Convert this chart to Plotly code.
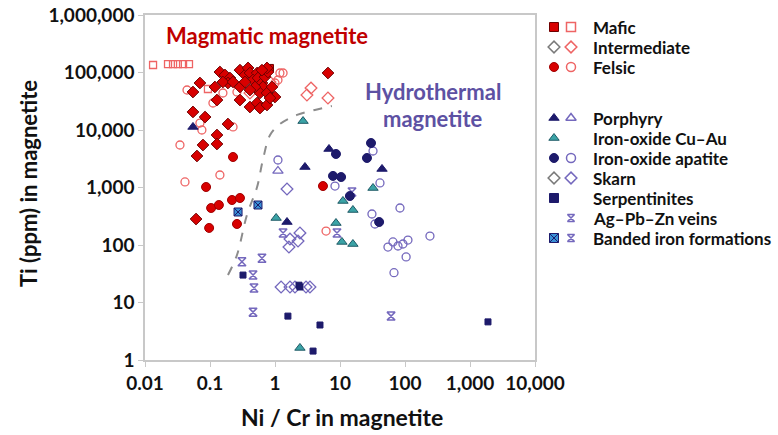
import plotly.graph_objects as go

# ---- Magmatic magnetite (Ni/Cr, Ti ppm) ----
mafic_open_x = [0.0133, 0.0226, 0.027, 0.032, 0.0385, 0.0475, 0.093]
mafic_open_y = [135000, 140000, 140000, 140000, 140000, 140000, 51600]
mafic_fill_x = [0.63, 0.837]
mafic_fill_y = [90500, 120000]

inter_fill_x = [0.142, 0.170, 0.203, 0.189, 0.158, 0.226, 0.289, 0.345, 0.385, 0.412,
                0.53, 0.459, 0.547, 0.63, 0.70, 0.78, 0.753, 0.653, 0.587, 0.492,
                0.412, 0.289, 0.289, 0.412, 0.53, 0.587, 0.753, 0.753, 0.90, 1.0,
                0.837, 0.119, 0.070, 0.0547, 0.128, 0.0547, 0.084, 0.189, 0.128, 0.078,
                0.128, 0.063, 0.061, 6.53, 0.345, 0.63]
inter_fill_y = [102000, 90500, 80200, 65700, 68400, 68400, 110000, 90500, 120000, 98000,
                98000, 74000, 80200, 65700, 83600, 102000, 120000, 56000, 44000, 56000,
                49600, 56000, 33200, 25100, 29500, 24100, 27200, 44000, 56000, 37500,
                36000, 56000, 65700, 45800, 33200, 20600, 16800, 12700, 8180, 5480,
                5710, 3530, 283, 98000, 68400, 110000]
inter_open_x = [3.58, 3.1, 6.53, 0.492, 0.412, 0.837]
inter_open_y = [53700, 40600, 36000, 83600, 44000, 68400]

felsic_fill_x = [0.226, 0.087, 0.104, 0.137, 0.218, 0.289, 0.097, 0.26, 5.47]
felsic_fill_y = [3390, 1020, 440, 496, 606, 657, 198, 232, 1060]
felsic_open_x = [0.0443, 0.111, 0.158, 1.19, 1.33, 1.11, 0.070, 0.075, 0.226, 0.0345,
                 0.142, 0.0412, 6.1, 0.26, 1.0]
felsic_open_y = [49600, 29500, 44000, 98000, 98000, 74000, 13200, 10000, 11300, 5480,
                 1650, 1250, 175, 45800, 65700]

# ---- Hydrothermal magnetite ----
porph_fill_x = [0.0547, 2.89, 1.53, 6.77, 44.3]
porph_fill_y = [11300, 2270, 251, 4670, 2100]
porph_open_x = [1.11]
porph_open_y = [1940]

iocg_x = [2.70, 1.04, 11.1, 15.8, 8.67, 10.7, 15.8, 32.2, 2.42]
iocg_y = [14300, 295, 583, 406, 241, 113, 104, 980, 1.62]

ioa_fill_x = [8.67, 30, 26, 7.8, 10.4, 40, 14.2]
ioa_fill_y = [3830, 5940, 3260, 1590, 1520, 251, 711]
ioa_open_x = [1.11, 32.2, 8.37, 41.2, 83.7, 31, 34.5, 54.7, 65.3, 78, 93, 111, 242, 104, 67.7]
ioa_open_y = [3010, 4310, 1060, 1200, 440, 346, 232, 92, 113, 96, 104, 122, 143, 62, 33]

skarn_x = [1.53, 1.70, 2.42, 2.26, 1.64, 1.24, 1.70, 2.03, 3.0, 3.45]
skarn_y = [942, 127, 162, 117, 92, 18.6, 18.6, 18.6, 18.6, 18.6]

serp_x = [0.322, 2.34, 2.42, 1.58, 4.92, 3.85, 1890]
serp_y = [30, 20, 18.6, 5.8, 4.06, 1.43, 4.6]

agpbzn_x = [1.33, 0.31, 0.63, 0.459, 0.475, 0.459, 61, 8.98, 15.3]
agpbzn_y = [162, 51, 59, 30, 17.9, 6.8, 5.8, 162, 835]

bif_x = [0.27, 0.547]
bif_y = [375, 496]

# boundary between magmatic and hydrothermal fields
bound_x = [0.189, 0.26, 0.37, 0.53, 0.65, 0.84, 1.19, 2.18, 4.1, 7.5]
bound_y = [30, 67, 333, 1020, 3000, 8200, 12700, 18300, 22300, 26100]

x_ticks = [0.01, 0.1, 1, 10, 100, 1000, 10000]
x_labels = ["0.01", "0.1", "1", "10", "100", "1,000", "10,000"]
y_ticks = [1, 10, 100, 1000, 10000, 100000, 1000000]
y_labels = ["1", "10", "100", "1,000", "10,000", "100,000", "1,000,000"]

legend_rows = ["Mafic", "Intermediate", "Felsic", "Porphyry", "Iron-oxide Cu\u2013Au",
               "Iron-oxide apatite", "Skarn", "Serpentinites", "Ag\u2013Pb\u2013Zn veins",
               "Banded iron formations"]

RED = "#d80000"
RED_EDGE = "#6e0000"
RED_OPEN = "#ee6464"
NAVY = "#1d1a6b"
PURPLE = "#7468bd"
TEAL = "#3ba3a6"
TEAL_EDGE = "#1f5a66"
BIF_BLUE = "#3a90d6"
GRAY = "#7a7a7a"
FONT = "Lato"

W, H = 778, 435
ML, MR, MT, MB = 145, 10, 15, 75
PW = W - ML - MR
PLOT_R = 535


def px(v):
    return (v - ML) / PW


def py(v):
    return (H - MB - v) / (H - MT - MB)


fig = go.Figure()


def add(x, y, symbol, size, color, line_color, line_w, xa="x", ya="y"):
    fig.add_trace(go.Scatter(
        x=x, y=y, mode="markers", xaxis=xa, yaxis=ya, showlegend=False,
        hoverinfo="skip",
        marker=dict(symbol=symbol, size=size, color=color,
                    line=dict(color=line_color, width=line_w))))


fig.add_trace(go.Scatter(x=bound_x, y=bound_y, mode="lines", showlegend=False,
                         line=dict(color="#8c8c8c", width=2, dash="dash", shape="spline"),
                         hoverinfo="skip"))

add(mafic_open_x, mafic_open_y, "square-open", 7, RED_OPEN, RED_OPEN, 1.3)
add(felsic_open_x, felsic_open_y, "circle-open", 8, RED_OPEN, RED_OPEN, 1.3)
add(inter_open_x, inter_open_y, "diamond-open", 9, RED_OPEN, RED_OPEN, 1.3)
add(mafic_fill_x, mafic_fill_y, "square", 7, RED, RED_EDGE, 1)
add(inter_fill_x, inter_fill_y, "diamond", 9, RED, RED_EDGE, 1)
add(felsic_fill_x, felsic_fill_y, "circle", 9, RED, "#a00000", 1)

add(ioa_open_x, ioa_open_y, "circle-open", 8, PURPLE, PURPLE, 1.3)
add(skarn_x, skarn_y, "diamond-open", 9, PURPLE, PURPLE, 1.3)
add(porph_open_x, porph_open_y, "triangle-up-open", 9, PURPLE, PURPLE, 1.3)
add(agpbzn_x, agpbzn_y, "hourglass-open", 8, PURPLE, PURPLE, 1.5)
add(ioa_fill_x, ioa_fill_y, "circle", 9, NAVY, NAVY, 1)
add(porph_fill_x, porph_fill_y, "triangle-up", 9, NAVY, NAVY, 1)
add(serp_x, serp_y, "square", 6, NAVY, NAVY, 1)
add(iocg_x, iocg_y, "triangle-up", 9, TEAL, TEAL_EDGE, 1)
add(bif_x, bif_y, "square-x", 8, BIF_BLUE, NAVY, 1)

# ---- custom two-column key (filled / open symbols per row) ----
row_y = [27, 47, 67, 118, 138, 158, 178, 198, 218, 238]
col_fill, col_open = 554, 571
key = [
    ("square", RED, RED_EDGE, 1, "square-open", RED_OPEN),
    ("diamond-open", GRAY, GRAY, 1.5, "diamond-open", RED_OPEN),
    ("circle", RED, "#a00000", 1, "circle-open", RED_OPEN),
    ("triangle-up", NAVY, NAVY, 1, "triangle-up-open", PURPLE),
    ("triangle-up", TEAL, TEAL_EDGE, 1, None, None),
    ("circle", NAVY, NAVY, 1, "circle-open", PURPLE),
    ("diamond-open", GRAY, GRAY, 1.5, "diamond-open", PURPLE),
    ("square", NAVY, NAVY, 1, None, None),
    (None, None, None, None, "hourglass-open", PURPLE),
    ("square-x", BIF_BLUE, NAVY, 1, "hourglass-open", PURPLE),
]
for yy, (fs, fc, fl, fw, osym, oc) in zip(row_y, key):
    if fs:
        add([col_fill], [yy], fs, 9, fc, fl, fw, "x2", "y2")
    if osym:
        sz = 7 if osym == "hourglass-open" else 9
        add([col_open], [yy], osym, sz, oc, oc, 1.5, "x2", "y2")

annotations = []
for name, yy in zip(legend_rows, row_y):
    annotations.append(dict(x=591, y=yy, xref="x2", yref="y2", text=f"<b>{name}</b>",
                            showarrow=False, xanchor="left", yanchor="middle",
                            font=dict(family=FONT, size=17, color="#111111")))

annotations += [
    dict(x=px(164), y=py(35), xref="paper", yref="paper", text="<b>Magmatic magnetite</b>",
         showarrow=False, xanchor="left", yanchor="middle",
         font=dict(family=FONT, size=22, color="#c00000")),
    dict(x=px(433), y=py(92), xref="paper", yref="paper", text="<b>Hydrothermal</b>",
         showarrow=False, xanchor="center", yanchor="middle",
         font=dict(family=FONT, size=22, color="#5d51a3")),
    dict(x=px(433), y=py(119), xref="paper", yref="paper", text="<b>magnetite</b>",
         showarrow=False, xanchor="center", yanchor="middle",
         font=dict(family=FONT, size=22, color="#5d51a3")),
    dict(x=px(28), y=py(184), xref="paper", yref="paper", text="<b>Ti (ppm) in magnetite</b>",
         showarrow=False, textangle=-90, xanchor="center", yanchor="middle",
         font=dict(family=FONT, size=22, color="#111111")),
    dict(x=px(342), y=py(417), xref="paper", yref="paper", text="<b>Ni / Cr in magnetite</b>",
         showarrow=False, xanchor="center", yanchor="middle",
         font=dict(family=FONT, size=23, color="#111111")),
]

axis_line = "#c8c8c8"
fig.update_layout(
    width=W, height=H,
    margin=dict(l=ML, r=MR, t=MT, b=MB, autoexpand=False),
    paper_bgcolor="white", plot_bgcolor="white",
    annotations=annotations,
    xaxis=dict(type="log", range=[-2, 4], domain=[0, (PLOT_R - ML) / PW],
               tickvals=x_ticks, ticktext=[f"<b>{t}</b>" for t in x_labels],
               tickfont=dict(family=FONT, size=19, color="#111111"),
               showgrid=False, zeroline=False, showline=True, mirror=True,
               linecolor=axis_line, linewidth=1.5, ticks="outside", ticklen=5,
               tickcolor=axis_line, anchor="y", automargin=False),
    yaxis=dict(type="log", range=[0, 6], domain=[0, 1],
               tickvals=y_ticks, ticktext=[f"<b>{t}</b>" for t in y_labels],
               tickfont=dict(family=FONT, size=19, color="#111111"),
               showgrid=False, zeroline=False, showline=True, mirror=True,
               linecolor=axis_line, linewidth=1.5, ticks="outside", ticklen=5,
               tickcolor=axis_line, anchor="x", automargin=False),
    xaxis2=dict(domain=[(538 - ML) / PW, 1], range=[538, W - MR], visible=False,
                showticklabels=False, anchor="y2", fixedrange=True, automargin=False),
    yaxis2=dict(domain=[0, 1], range=[H - MB, MT], visible=False, showticklabels=False,
                anchor="x2", fixedrange=True, automargin=False),
)

fig.write_html("out.html")
